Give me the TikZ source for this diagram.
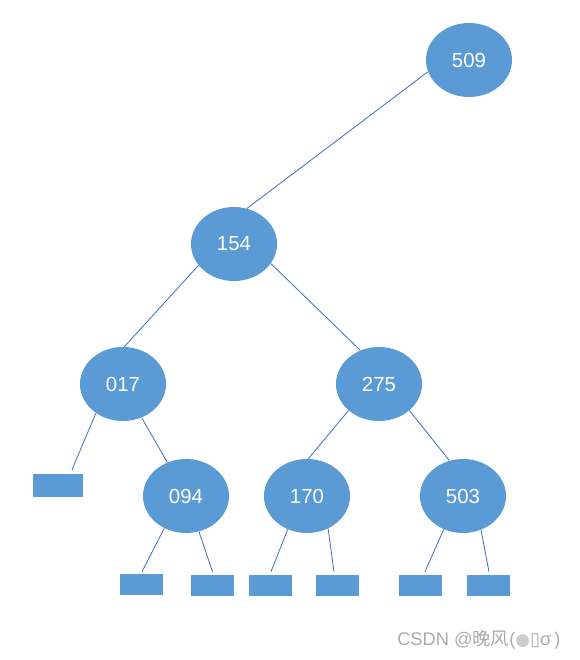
\documentclass[tikz,border=0pt]{standalone}
\usepackage{fontspec}
\setmainfont{Liberation Sans}
\newfontfamily\cjkfont{Noto Sans CJK SC}
\newfontfamily\symfont{DejaVu Sans}
\definecolor{treeBlue}{RGB}{91,155,213}
\definecolor{edgeBlue}{RGB}{68,114,196}
\definecolor{markGray}{RGB}{170,170,170}
\usetikzlibrary{shapes.geometric,calc}

\begin{document}
\begin{tikzpicture}[x=0.025cm, y=-0.025cm,
  keynode/.style={ellipse, fill=treeBlue, minimum width=2.15cm,
                  minimum height=1.85cm, inner sep=0pt, text=white,
                  font=\fontsize{14.5}{16}\selectfont},
  leaf/.style={rectangle, fill=treeBlue, minimum width=1.075cm,
               minimum height=0.525cm, inner sep=0pt},
  edge/.style={draw=edgeBlue, line width=0.6pt}
]
  \useasboundingbox (0,0) rectangle (580,660);

  % keys
  \node[keynode] (k509) at (469,60)  {509};
  \node[keynode] (k154) at (234,244) {154};
  \node[keynode] (k017) at (123,384) {017};
  \node[keynode] (k275) at (379,384) {275};
  \node[keynode] (k094) at (186,496) {094};
  \node[keynode] (k170) at (307,496) {170};
  \node[keynode] (k503) at (463,496) {503};

  % empty leaves
  \node[leaf, minimum width=1.25cm, minimum height=0.575cm] (l017) at (58,485.5) {};
  \node[leaf] (l094a) at (141.5,584.5) {};
  \node[leaf] (l094b) at (212.5,585.5) {};
  \node[leaf] (l170a) at (270.5,585.5) {};
  \node[leaf] (l170b) at (337.5,585.5) {};
  \node[leaf] (l503a) at (420.5,585.5) {};
  \node[leaf] (l503b) at (488.5,585.5) {};

  % edges
  \draw[edge] (k509.196) -- (k154.70);
  \draw[edge] (k154.211) -- (k017.88);
  \draw[edge] (k154.332) -- (k275.119);
  \draw[edge] (k017.227) -- ($(l017.north)+(14,-4)$);
  \draw[edge] (k017.299) -- (k094.119);
  \draw[edge] (k275.221) -- (k170.88);
  \draw[edge] (k275.319) -- (k503.111);
  \draw[edge] (k094.236) -- ($(l094a.north)+(0.5,-2)$);
  \draw[edge] (k094.290) -- ($(l094b.north)+(0,-3)$);
  \draw[edge] (k170.240) -- ($(l170a.north)+(0.5,-3)$);
  \draw[edge] (k170.303) -- ($(l170b.north)+(-3.5,-3)$);
  \draw[edge] (k503.240) -- ($(l503a.north)+(4.5,-3)$);
  \draw[edge] (k503.298) -- ($(l503b.north)+(0.5,-3)$);

  % watermark
  \node[anchor=west, inner sep=0pt, text=markGray, font=\fontsize{13}{15}\selectfont]
    (mark) at (397,640) {CSDN @{\cjkfont 晚风}({\symfont \textcolor{markGray!60}{\large●}▯}σ\,)};
\end{tikzpicture}
\end{document}
